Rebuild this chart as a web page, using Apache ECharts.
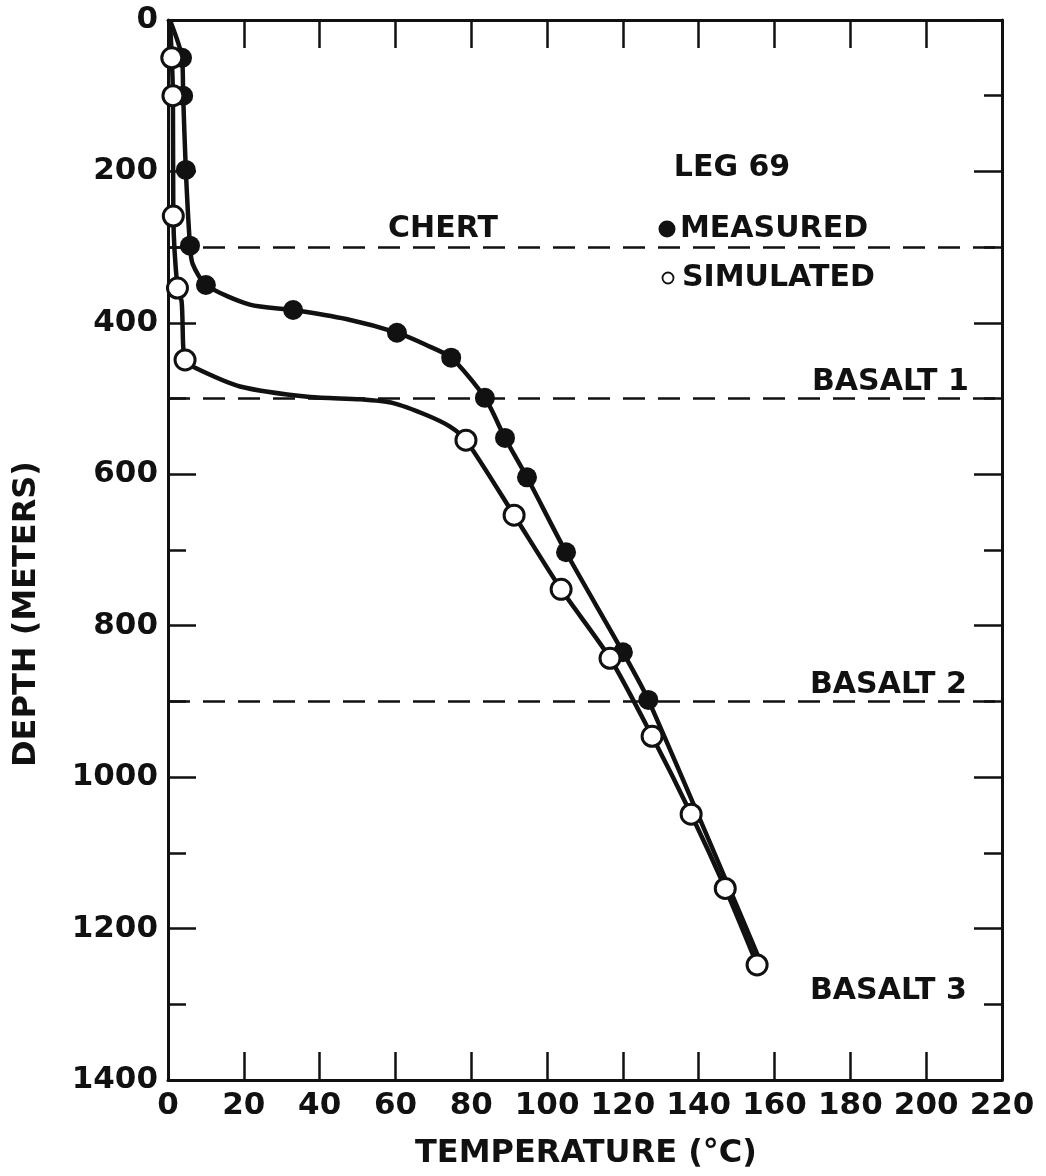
<!DOCTYPE html>
<html>
<head>
<meta charset="utf-8">
<title>Leg 69 temperature profile</title>
<script src="https://cdn.jsdelivr.net/npm/echarts@6/dist/echarts.min.js"></script>
<style>
  html, body { margin: 0; padding: 0; background: #fff; }
  #chart { width: 1046px; height: 1176px; }
</style>
</head>
<body>
<div id="chart"></div>
<script>
// Measured borehole temperatures (°C) and their depths (m)
const measuredTemp  = [3.7, 4.0, 4.7, 5.8, 10, 33, 60.4, 74.7, 83.6, 88.9, 94.7, 105, 120, 126.7];
const measuredDepth = [50, 100, 198, 298, 350, 383, 413, 446, 499, 552, 604, 703, 835, 898];

// Simulated temperatures (°C) and depths (m)
const simulatedTemp  = [1.0, 1.3, 1.4, 2.5, 4.5, 78.6, 91.3, 103.7, 116.6, 127.7, 138, 147, 155.4];
const simulatedDepth = [50, 100, 259, 354, 449, 555, 654, 752, 843, 946, 1049, 1147, 1248];

// Hand-drawn profile curves through the points
const measuredCurveTemp  = [0.5, 3.7, 4.0, 4.7, 5.8, 6.5, 10, 21.6, 33, 47, 60.4, 68, 74.7, 83.6, 88.9, 94.7, 105, 120, 126.7, 155.8];
const measuredCurveDepth = [0, 50, 100, 198, 298, 322, 350, 376, 383, 395, 413, 429, 446, 499, 552, 604, 703, 835, 898, 1238];
const simulatedCurveTemp  = [0.5, 1.0, 1.3, 1.4, 2.5, 3.6, 4.0, 4.5, 6.6, 19, 37.5, 50.7, 59.4, 68.3, 74.4, 78.6, 91.3, 103.7, 116.6, 127.7, 138, 147, 155.4];
const simulatedCurveDepth = [0, 50, 100, 259, 354, 372, 430, 449, 458, 484, 498, 501, 506, 522, 537, 555, 654, 752, 843, 946, 1049, 1147, 1248];

// Formation boundaries (m)
const boundaryDepths = [300, 500, 900];

// Axis ranges
const tempRange = [0, 220];
const tempStep = 20;
const depthRange = [0, 1400];
const depthStep = 200;

const pairs = (xs, ys) => xs.map((x, i) => [x, ys[i]]);

const INK = '#111';
const FONT = '"DejaVu Sans", sans-serif';
const textFont = 'bold 30px ' + FONT;

const frameLine = { show: true, onZero: false, lineStyle: { color: INK, width: 3 } };
const tickStyle = { color: INK, width: 2.5 };
const plainNumber = v => String(v);

const chart = echarts.init(document.getElementById('chart'), null, { renderer: 'canvas' });

const xBase = {
  type: 'value', min: tempRange[0], max: tempRange[1], interval: tempStep,
  axisLine: frameLine,
  axisTick: { show: true, inside: true, length: 28, lineStyle: tickStyle },
  splitLine: { show: false }
};
const yBase = {
  type: 'value', inverse: true, min: depthRange[0], max: depthRange[1], interval: depthStep,
  axisLine: frameLine,
  axisTick: { show: true, inside: true, length: 28, lineStyle: tickStyle },
  minorTick: { show: true, splitNumber: 2, length: 18, lineStyle: tickStyle },
  splitLine: { show: false }, minorSplitLine: { show: false }
};

chart.setOption({
  animation: false,
  backgroundColor: '#fff',
  grid: { left: 168, right: 44, top: 20, bottom: 96, containLabel: false },
  xAxis: [
    Object.assign({}, xBase, {
      position: 'bottom',
      axisLabel: { show: true, margin: 10, color: INK, fontFamily: FONT, fontWeight: 'bold', fontSize: 31, formatter: plainNumber }
    }),
    Object.assign({}, xBase, { position: 'top', axisLabel: { show: false } })
  ],
  yAxis: [
    Object.assign({}, yBase, {
      position: 'left',
      axisLabel: { show: true, margin: 10, color: INK, fontFamily: FONT, fontWeight: 'bold', fontSize: 31, formatter: plainNumber }
    }),
    Object.assign({}, yBase, { position: 'right', axisLabel: { show: false } })
  ],
  series: [
    {
      name: 'Measured curve', type: 'line', smooth: 0.25, symbol: 'none',
      data: pairs(measuredCurveTemp, measuredCurveDepth),
      lineStyle: { color: INK, width: 4.5 }, z: 2,
      markLine: {
        silent: true, symbol: ['none', 'none'], label: { show: false },
        lineStyle: { color: INK, width: 2.5, type: [22, 13] },
        data: boundaryDepths.map(d => ({ yAxis: d }))
      }
    },
    {
      name: 'Simulated curve', type: 'line', smooth: 0.25, symbol: 'none',
      data: pairs(simulatedCurveTemp, simulatedCurveDepth),
      lineStyle: { color: INK, width: 4.5 }, z: 2
    },
    {
      name: 'MEASURED', type: 'scatter', symbol: 'circle', symbolSize: 20,
      data: pairs(measuredTemp, measuredDepth),
      itemStyle: { color: INK, opacity: 1 }, z: 4
    },
    {
      name: 'SIMULATED', type: 'scatter', symbol: 'circle', symbolSize: 20,
      data: pairs(simulatedTemp, simulatedDepth),
      itemStyle: { color: '#fff', borderColor: INK, borderWidth: 3, opacity: 1 }, z: 5
    }
  ],
  graphic: [
    { type: 'text', x: 27, y: 614, rotation: Math.PI / 2,
      style: { text: 'DEPTH (METERS)', font: 'bold 32px ' + FONT, fill: INK, align: 'center', verticalAlign: 'middle' } },
    { type: 'text', x: 586, y: 1154,
      style: { text: 'TEMPERATURE (°C)', font: 'bold 32px ' + FONT, fill: INK, align: 'center', verticalAlign: 'middle' } },
    { type: 'text', x: 732, y: 168,
      style: { text: 'LEG 69', font: textFont, fill: INK, align: 'center', verticalAlign: 'middle' } },
    { type: 'text', x: 443, y: 229,
      style: { text: 'CHERT', font: textFont, fill: INK, align: 'center', verticalAlign: 'middle' } },
    { type: 'circle', shape: { cx: 667, cy: 229, r: 8.5 }, style: { fill: INK } },
    { type: 'text', x: 680, y: 229,
      style: { text: 'MEASURED', font: textFont, fill: INK, align: 'left', verticalAlign: 'middle' } },
    { type: 'circle', shape: { cx: 668, cy: 278, r: 5.5 }, style: { fill: '#fff', stroke: INK, lineWidth: 1.8 } },
    { type: 'text', x: 682, y: 278,
      style: { text: 'SIMULATED', font: textFont, fill: INK, align: 'left', verticalAlign: 'middle' } },
    { type: 'text', x: 812, y: 382,
      style: { text: 'BASALT 1', font: textFont, fill: INK, align: 'left', verticalAlign: 'middle' } },
    { type: 'text', x: 810, y: 685,
      style: { text: 'BASALT 2', font: textFont, fill: INK, align: 'left', verticalAlign: 'middle' } },
    { type: 'text', x: 810, y: 991,
      style: { text: 'BASALT 3', font: textFont, fill: INK, align: 'left', verticalAlign: 'middle' } }
  ]
});
</script>
</body>
</html>
